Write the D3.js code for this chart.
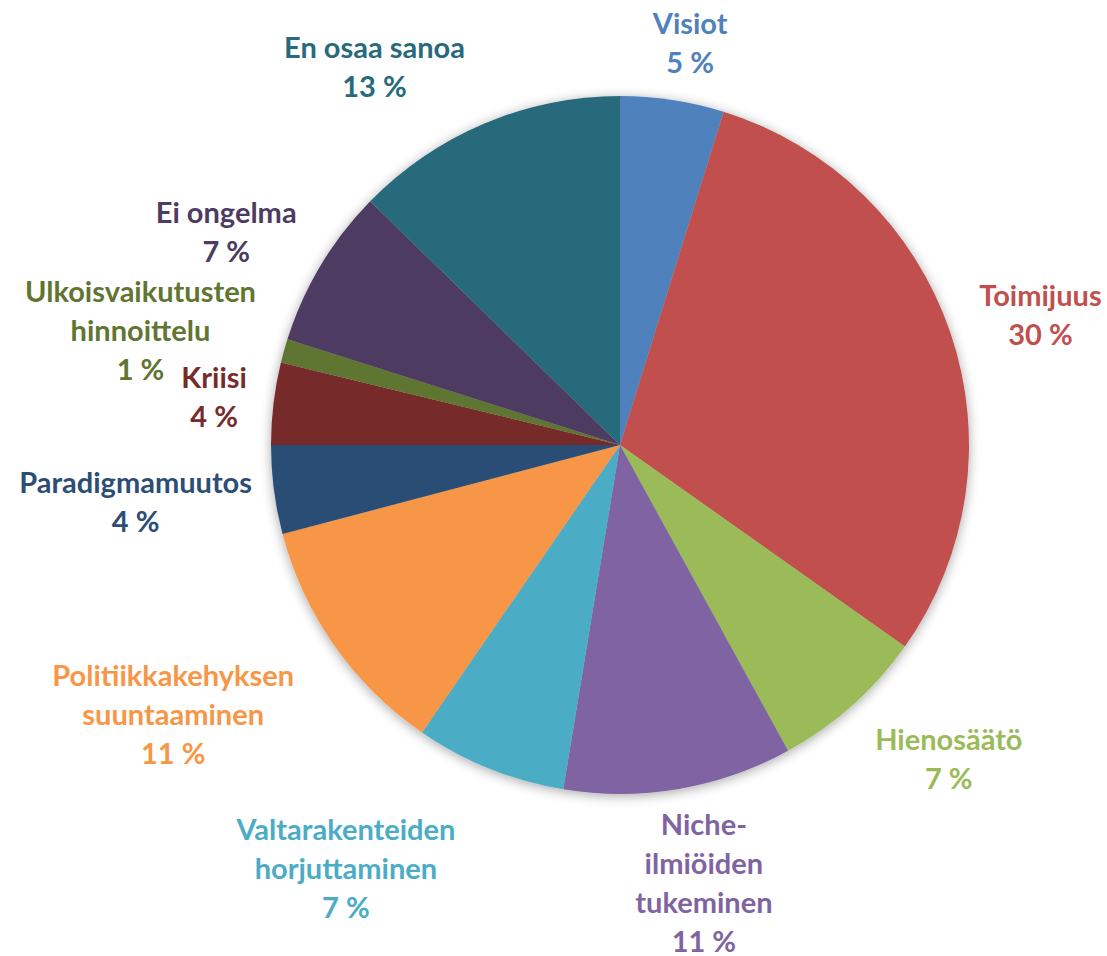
<!DOCTYPE html>
<html>
<head>
<meta charset="utf-8">
<script src="https://cdn.jsdelivr.net/npm/d3@7"></script>
<style>
  html, body { margin: 0; padding: 0; background: #fff; }
  svg { display: block; }
  .lbl { font-family: Lato, "Open Sans", sans-serif; font-weight: bold; font-size: 29px; }
</style>
</head>
<body>
<svg id="chart" width="1107" height="956"></svg>
<script>
// Categories (line breaks as "\n"), clockwise from 12 o'clock
const categories = [
  "Visiot",
  "Toimijuus",
  "Hienosäätö",
  "Niche-\nilmiöiden\ntukeminen",
  "Valtarakenteiden\nhorjuttaminen",
  "Politiikkakehyksen\nsuuntaaminen",
  "Paradigmamuutos",
  "Kriisi",
  "Ulkoisvaikutusten\nhinnoittelu",
  "Ei ongelma",
  "En osaa sanoa"
];
// share of answers, %
const shares = [4.8, 30.0, 7.2, 10.6, 7.0, 11.3, 4.1, 3.8, 1.1, 7.4, 12.7];
const colors = ["#4F81BD", "#C0504D", "#9BBB59", "#8064A2", "#4BACC6", "#F79646",
                "#2C4D75", "#772C2A", "#5F7530", "#4D3B62", "#276A7C"];

// small manual nudges for label placement (like dragged labels in the original)
const labelNudge = [[9, 2], [13, 1], [34, 10], [10, -2], [-95, 27], [-46, 24],
                    [-3, 5], [-7, 1], [-13, 1], [-17, -3], [-67, -2]];

const cx = 620, cy = 445, radius = 349, gap = 20, lineH = 39;

const data = categories.map((c, i) => ({ name: c, value: shares[i], color: colors[i], i: i }));

const svg = d3.select("#chart");

// soft shadow round the pie
const defs = svg.append("defs");
const f = defs.append("filter").attr("id", "shadow")
  .attr("x", "-20%").attr("y", "-20%").attr("width", "140%").attr("height", "140%");
f.append("feDropShadow").attr("dx", 0).attr("dy", 2).attr("stdDeviation", 6)
  .attr("flood-color", "#000").attr("flood-opacity", 0.35);

const g = svg.append("g").attr("transform", `translate(${cx},${cy})`);

const pie = d3.pie().value(d => d.value).sort(null);
const arc = d3.arc().innerRadius(0).outerRadius(radius);
const arcs = pie(data);

g.append("g").attr("filter", "url(#shadow)")
  .selectAll("path")
  .data(arcs)
  .enter()
  .append("path")
  .attr("d", arc)
  .attr("fill", d => d.data.color);

// labels
const labels = g.append("g").selectAll("text")
  .data(arcs)
  .enter()
  .append("text")
  .attr("class", "lbl")
  .attr("fill", d => d.data.color)
  .attr("text-anchor", "middle");

labels.each(function (d) {
  const lines = d.data.name.split("\n").concat([Math.round(d.data.value) + " %"]);
  const t = d3.select(this);
  lines.forEach((l, k) => {
    t.append("tspan").attr("x", 0).attr("y", (k + 0.5) * lineH).attr("dy", "0.35em").text(l);
  });
  const bb = this.getBBox();
  const w = bb.width, h = lines.length * lineH;
  const a = (d.startAngle + d.endAngle) / 2;
  const r = radius + gap;
  const nx = labelNudge[d.data.i][0], ny = labelNudge[d.data.i][1];
  const px = r * Math.sin(a) + (w / 2) * Math.sin(a) + nx;
  const py = -r * Math.cos(a) - (h / 2) * Math.cos(a) + ny;
  t.attr("transform", `translate(${px},${py - h / 2})`);
});
</script>
</body>
</html>
